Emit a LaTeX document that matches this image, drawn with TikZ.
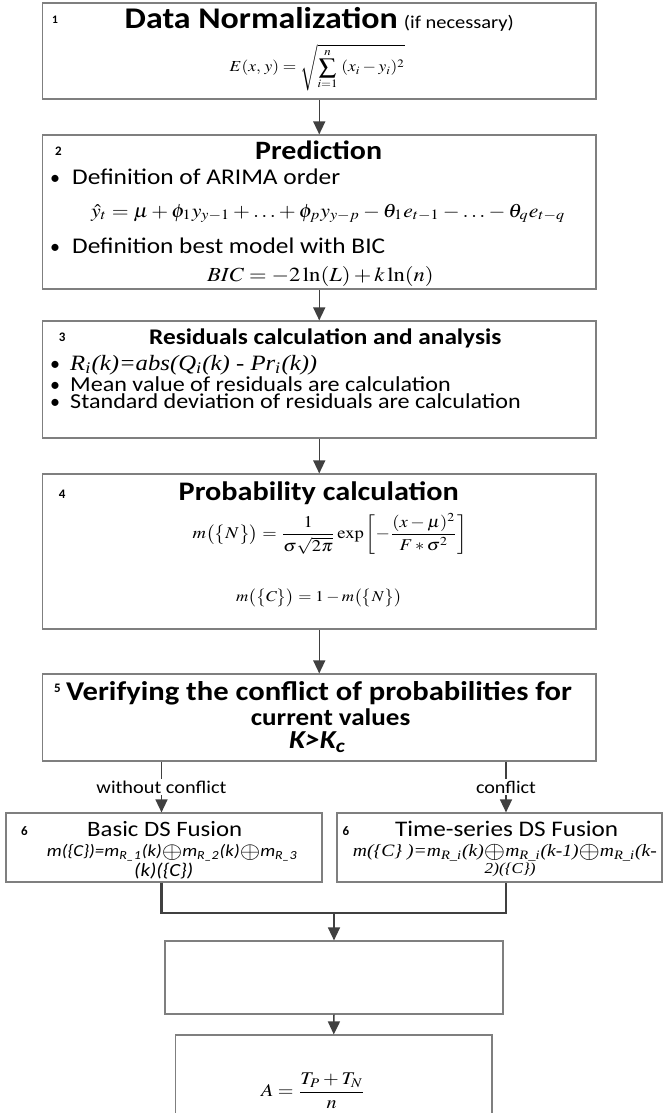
\documentclass[tikz,border=0pt]{standalone}
\usepackage{mathptmx}
\usepackage[no-math]{fontspec}
\setmainfont{Carlito}
\newfontfamily\tnr{Liberation Serif}
\usepackage{graphicx}
\usetikzlibrary{arrows.meta}
\definecolor{bordergray}{HTML}{7F7F7F}
\definecolor{arrowgray}{HTML}{404040}
\newcommand{\fw}[2]{\resizebox{#1pt}{!}{\scalebox{1.13}[1]{#2}}}
\newcommand{\bop}{\raisebox{-0.12em}{\scalebox{1.4}{$\oplus$}}}
\begin{document}
\begin{tikzpicture}[x=1pt,y=-1pt,
  box/.style={draw=bordergray, line width=1.2pt, inner sep=0pt},
  txt/.style={anchor=base west, inner sep=0pt},
  ctr/.style={anchor=center, inner sep=0pt},
  num/.style={anchor=base west, inner sep=0pt, font=\fontsize{13}{14}\selectfont\bfseries},
  bul/.style={anchor=base, inner sep=0pt, font=\fontsize{20}{22}\selectfont},
  arr/.style={draw=arrowgray, line width=1.5pt, -{Triangle[length=13pt,width=12pt]}},
  merge/.style={draw=arrowgray, line width=2.4pt},
  lab/.style={fill=white, inner sep=1.5pt, anchor=center}]
\fill[white] (0,0) rectangle (663,1113);
\useasboundingbox (0,0) rectangle (663,1113);

% boxes
\node[box, minimum width=553.5pt, minimum height=96pt] (b1) at (319.25,51) {};
\node[box, minimum width=553.5pt, minimum height=154pt] (b2) at (319.25,212) {};
\node[box, minimum width=553.5pt, minimum height=117pt] (b3) at (319.25,379.5) {};
\node[box, minimum width=553.5pt, minimum height=155pt] (b4) at (319.25,551.5) {};
\node[box, minimum width=553.5pt, minimum height=87pt] (b5) at (319.25,717.5) {};
\node[box, minimum width=316pt, minimum height=69pt] (b6a) at (164,847.5) {};
\node[box, minimum width=325pt, minimum height=69pt] (b6b) at (499.5,847.5) {};
\node[box, minimum width=338pt, minimum height=73pt] (b7) at (334,977.5) {};
\node[box, minimum width=316.5pt, minimum height=90pt] (b8) at (333.75,1080) {};

% box 1
\node[num, font=\fontsize{11.5}{12}\selectfont\bfseries] (n1) at (52,24) {1};
\node[txt] (t1a) at (124.5,29) {\fw{273}{\bfseries Data Normalization}};
\node[txt] (t1b) at (403.7,29) {\fw{110}{(if necessary)}};
\node[txt] (f1) at (229.5,72) {\fw{175}{$\displaystyle E(x,\,y)=\sqrt{\sum_{i=1}^{n}\;(x_{i}-y_{i})^{2}}$}};

% box 2
\node[num] (n2) at (55,155.7) {2};
\node[txt] (t2) at (255,159.3) {\fw{127}{\bfseries Prediction}};
\node[bul] (u2a) at (55,184.3) {•};
\node[txt] (t2a) at (72,184.3) {\fw{268}{Definition of ARIMA order}};
\node[txt] (f2a) at (91,217) {\fw{474}{$\hat{y}_{t}=\mu+\phi_{1}y_{y-1}+\ldots+\phi_{p}y_{y-p}-\theta_{1}e_{t-1}-\ldots-\theta_{q}e_{t-q}$}};
\node[bul] (u2b) at (55,253.3) {•};
\node[txt] (t2b) at (72,253.3) {\fw{313}{Definition best model with BIC}};
\node[txt] (f2b) at (207,281) {\fw{226.5}{$BIC=-2\ln(L)+k\ln(n)$}};

% box 3
\node[num] (n3) at (58.6,341.7) {3};
\node[txt] (t3) at (149,344.3) {\fw{352}{\bfseries Residuals calculation and analysis}};
\node[bul] (u3a) at (55,370) {•};
\node[txt] (t3a) at (70,370) {\fw{247}{\tnr\itshape R\textsubscript{i}(k)=abs(Q\textsubscript{i}(k) - Pr\textsubscript{i}(k))}};
\node[bul] (u3b) at (55,391.7) {•};
\node[txt] (t3b) at (70,391.7) {\fw{380.5}{Mean value of residuals are calculation}};
\node[bul] (u3c) at (55,408.3) {•};
\node[txt] (t3c) at (70,408.3) {\fw{450.6}{Standard deviation of residuals are calculation}};

% box 4
\node[num] (n4) at (58.6,498.3) {4};
\node[txt] (t4) at (178.5,500) {\fw{280}{\bfseries Probability calculation}};
\node[ctr] (f4a) at (330,534) {\fw{274.5}{$\displaystyle m\bigl(\bigl\{N\bigr\}\bigr)=\frac{1}{\sigma\sqrt{2\pi}}\exp\left[-\frac{(x-\mu)^{2}}{F*\sigma^{2}}\right]$}};
\node[ctr] (f4b) at (319,598) {\fw{165.6}{$m\bigl(\bigl\{C\bigr\}\bigr)=1-m\bigl(\bigl\{N\bigr\}\bigr)$}};

% box 5
\node[num] (n5) at (54,692.7) {5};
\node[txt] (t5a) at (66,700) {\fw{505.6}{\bfseries Verifying the conflict of probabilities for}};
\node[txt] (t5b) at (250.7,725) {\fw{159.4}{\bfseries current values}};
\node[txt] (t5c) at (289,748.3) {\fw{57}{\bfseries\itshape K>K\textsubscript{c}}};

% box 6a
\node[num] (n6a) at (21,835) {6};
\node[txt] (t6a) at (87,836) {\fw{155}{Basic DS Fusion}};
\node[txt] (f6a1) at (46.7,856.7) {\fw{250.8}{\itshape m(\{C\})=m\textsubscript{R\_1}(k)\bop m\textsubscript{R\_2}(k)\bop m\textsubscript{R\_3}}};
\node[txt] (f6a2) at (134,876.5) {\fw{59}{\itshape (k)(\{C\})}};

% box 6b
\node[num] (n6b) at (342.4,835) {6};
\node[txt] (t6b) at (395,836) {\fw{223}{Time-series DS Fusion}};
\node[txt] (f6b1) at (352.7,856.7) {\fw{304}{\tnr\itshape m(\{C\} )=m\textsubscript{R\_i}(k)\bop m\textsubscript{R\_i}(k-1)\bop m\textsubscript{R\_i}(k-}};
\node[txt] (f6b2) at (484.5,873) {\fw{51}{\tnr\itshape 2)(\{C\})}};

% box 8
\node[ctr] (f8) at (313.25,1091) {\fw{104.5}{$\displaystyle A=\frac{T_{P}+T_{N}}{n}$}};

% connectors
\coordinate (c1) at (161.5,0);
\coordinate (c2) at (506,0);
\coordinate (mj) at (334,913);
\draw[arr] (b1.south) -- (b2.north);
\draw[arr] (b2.south) -- (b3.north);
\draw[arr] (b3.south) -- (b4.north);
\draw[arr] (b4.south) -- (b5.north);
\draw[arr] (b5.south -| c1) -- node[lab] (l1) {\fw{130}{without conflict}} (b6a.north -| c1);
\draw[arr] (b5.south -| c2) -- node[lab] (l2) {\fw{60}{conflict}} (b6b.north -| c2);
\draw[merge] (b6a.south -| c1) |- (mj) -| (b6b.south -| c2);
\draw[arr] (mj) -- (b7.north);
\draw[arr] (b7.south) -- (b8.north);
\end{tikzpicture}
\end{document}
